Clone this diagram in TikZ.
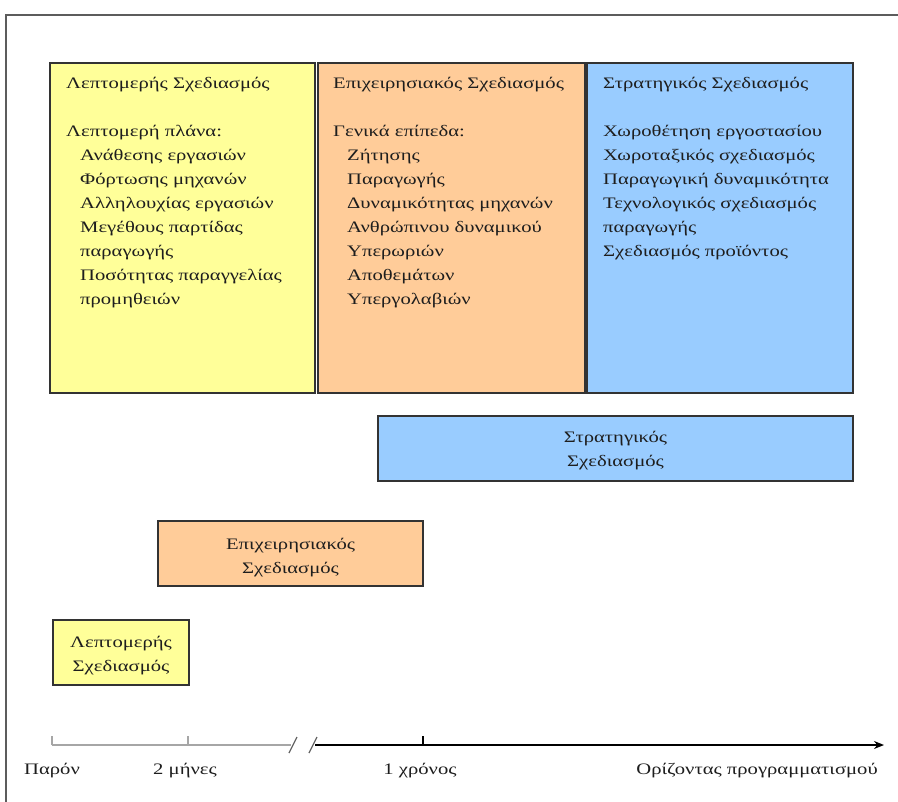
\documentclass[tikz,border=0pt]{standalone}
\usepackage{fontspec}
\setmainfont[FakeStretch=1.29]{Liberation Serif}
\usetikzlibrary{arrows.meta}
\definecolor{pyellow}{HTML}{FFFF99}
\definecolor{porange}{HTML}{FFCC99}
\definecolor{pblue}{HTML}{99CCFF}
\definecolor{edge}{HTML}{333333}
\definecolor{ink}{HTML}{1E1E1E}
\tikzset{
  plan/.style={draw=edge, line width=2pt, inner sep=0pt},
  bigtext/.style={anchor=north west, align=left, inner sep=0pt, text=ink,
    font=\fontsize{16}{24}\selectfont},
  midtext/.style={align=center, inner sep=0pt, text=ink,
    font=\fontsize{16}{24}\selectfont},
  axislbl/.style={anchor=base, inner sep=0pt, text=ink,
    font=\fontsize{16}{24}\selectfont},
  tick/.style={line width=1.2pt},
}
\begin{document}
\begin{tikzpicture}[x=1pt,y=-1pt]
\useasboundingbox (0,0) rectangle (898,802);
\fill[white] (0,0) rectangle (898,802);
% outer frame
\draw[line width=2.5pt, edge!80] (900,15) -- (6,15) -- (6,804);

% the three planning levels
\node[plan, fill=pyellow, minimum width=265pt, minimum height=330pt, anchor=north west] (det) at (49,62) {};
\node[plan, fill=porange, minimum width=267pt, minimum height=330pt, anchor=north west] (ops) at (317,62) {};
\node[plan, fill=pblue,   minimum width=266pt, minimum height=330pt, anchor=north west] (str) at (586,62) {};

\node[bigtext] (dett) at (66,77) {Λεπτομερής Σχεδιασμός\\[24pt]
Λεπτομερή πλάνα:\\
\hspace*{14pt}Ανάθεσης εργασιών\\
\hspace*{14pt}Φόρτωσης μηχανών\\
\hspace*{14pt}Αλληλουχίας εργασιών\\
\hspace*{14pt}Μεγέθους παρτίδας\\
\hspace*{14pt}παραγωγής\\
\hspace*{14pt}Ποσότητας παραγγελίας\\
\hspace*{14pt}προμηθειών};

\node[bigtext] (opst) at (333,77) {Επιχειρησιακός Σχεδιασμός\\[24pt]
Γενικά επίπεδα:\\
\hspace*{14pt}Ζήτησης\\
\hspace*{14pt}Παραγωγής\\
\hspace*{14pt}Δυναμικότητας μηχανών\\
\hspace*{14pt}Ανθρώπινου δυναμικού\\
\hspace*{14pt}Υπερωριών\\
\hspace*{14pt}Αποθεμάτων\\
\hspace*{14pt}Υπεργολαβιών};

\node[bigtext] (strt) at (603,77) {Στρατηγικός Σχεδιασμός\\[24pt]
Χωροθέτηση εργοστασίου\\
Χωροταξικός σχεδιασμός\\
Παραγωγική δυναμικότητα\\
Τεχνολογικός σχεδιασμός\\
παραγωγής\\
Σχεδιασμός προϊόντος};

% horizons
\node[plan, fill=pblue, minimum width=475pt, minimum height=65pt, anchor=north west] (strh) at (377,415) {};
\node[midtext] at ([yshift=-2.5pt]strh.center) {Στρατηγικός\\Σχεδιασμός};
\node[plan, fill=porange, minimum width=265pt, minimum height=65pt, anchor=north west] (opsh) at (157,520) {};
\node[midtext] at ([yshift=-4.5pt]opsh.center) {Επιχειρησιακός\\Σχεδιασμός};
\node[plan, fill=pyellow, minimum width=136pt, minimum height=65pt, anchor=north west] (deth) at (52,619) {};
\node[midtext] at ([yshift=-3pt]deth.center) {Λεπτομερής\\Σχεδιασμός};

% time axis
\coordinate (t0) at (52,745);
\coordinate (t2m) at (188,745);
\coordinate (brkA) at (291,745);
\coordinate (brkB) at (315,745);
\coordinate (t1y) at (423,745);
\coordinate (tend) at (884,745);
\draw[line width=1.5pt, gray!70] (t0) -- (brkA);
\draw[line width=2pt, black, -{Stealth[length=10pt,width=8pt]}] (brkB) -- (tend);
\draw[tick, gray!70] (t0) -- ++(0,-9);
\draw[tick, gray!70] (t2m) -- ++(0,-9);
\draw[tick] (t1y) -- ++(0,-9);
\draw[line width=1.2pt, gray!80!black] (brkA) ++(-2,8) -- ++(8,-16);
\draw[line width=1.2pt, gray!80!black] (brkB) ++(-6,8) -- ++(8,-16);

\node[axislbl] (l0) at (52,774) {Παρόν};
\node[axislbl] (l2m) at (185,774) {2 μήνες};
\node[axislbl] (l1y) at (420,774) {1 χρόνος};
\node[axislbl, anchor=base east] (lh) at (878,774) {Ορίζοντας προγραμματισμού};
\end{tikzpicture}
\end{document}
